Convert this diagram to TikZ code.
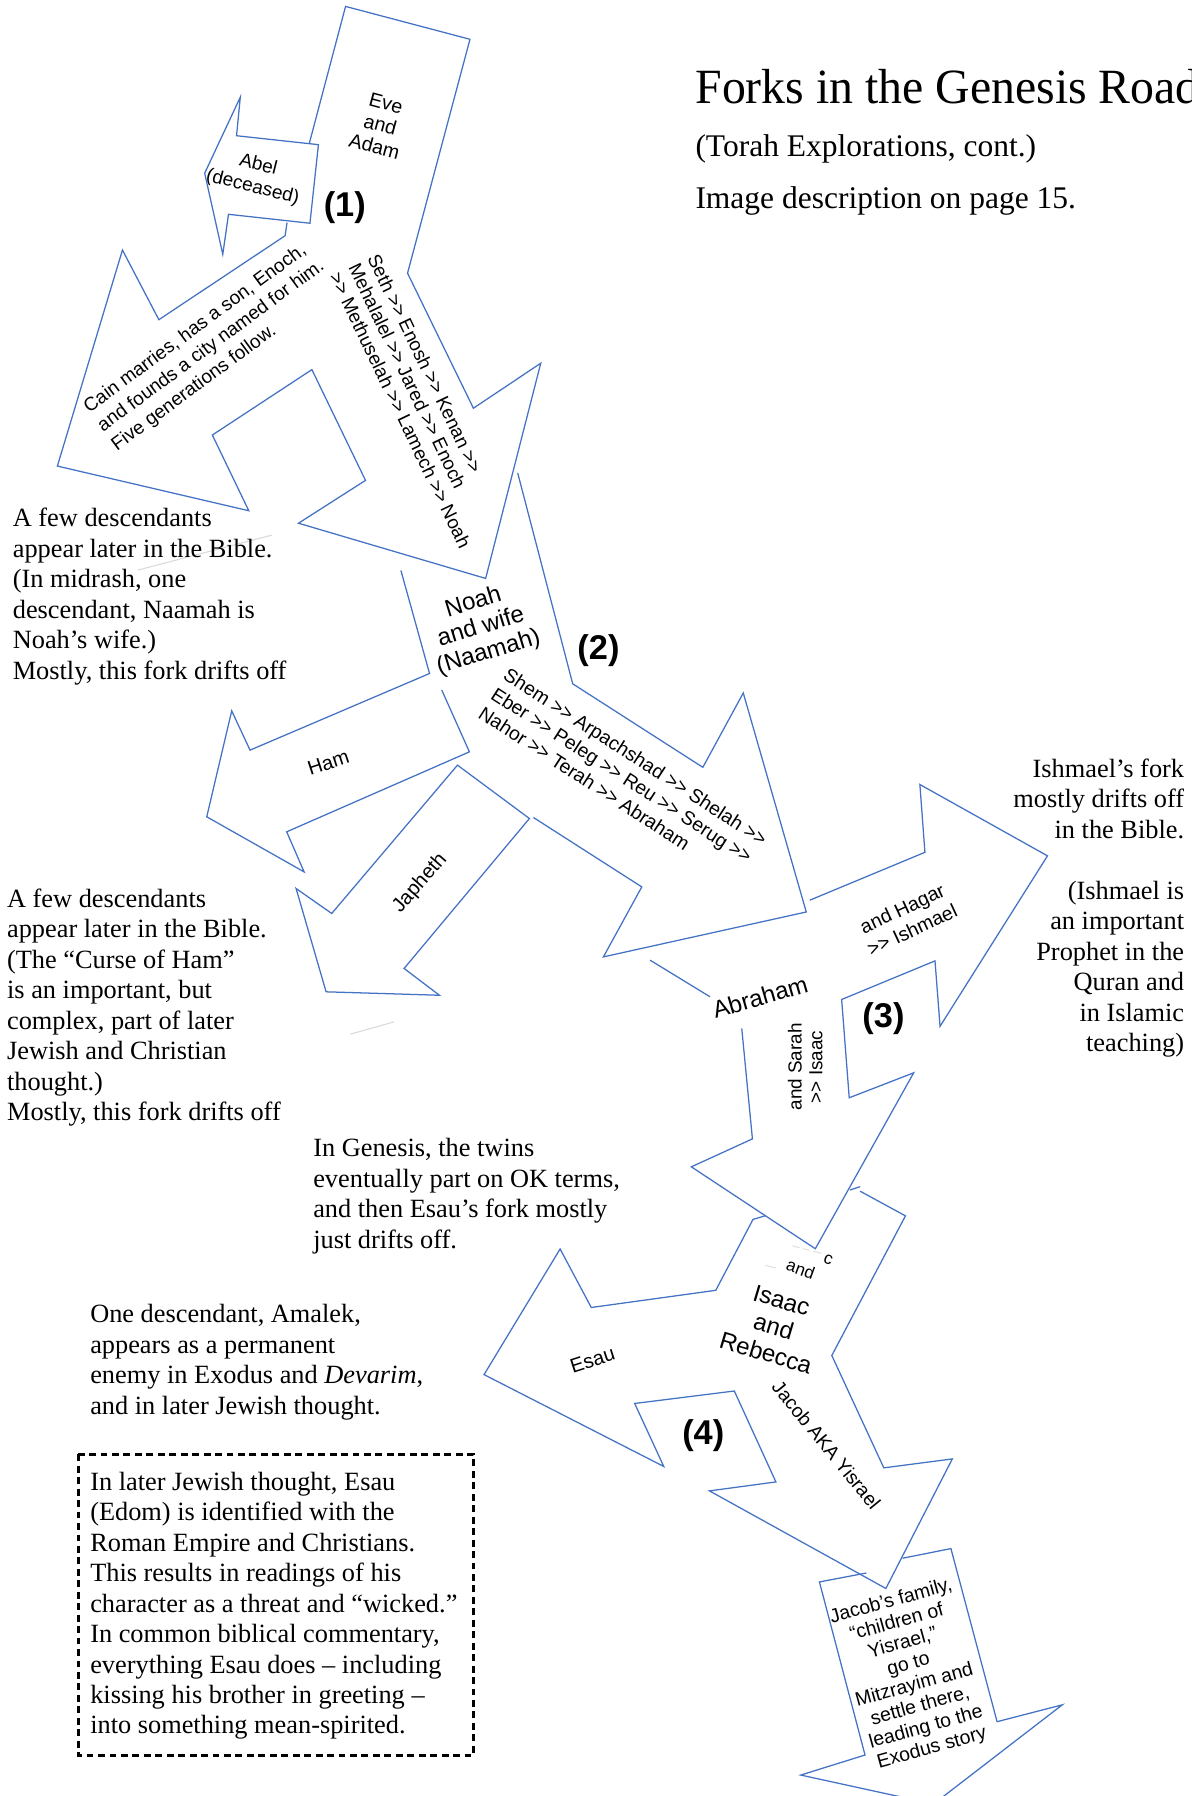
\documentclass[tikz,border=0pt]{standalone}
\usepackage{fontspec}
\setmainfont{Liberation Serif}
\setsansfont{Liberation Sans}
\usepackage{graphicx}
\definecolor{ablue}{RGB}{68,114,196}
\tikzset{
  shapeline/.style={draw=ablue, line width=1.1pt, line join=miter, miter limit=12},
  lab/.style={font=\sffamily\fontsize{16.8}{19}\selectfont, inner sep=0pt, align=center},
  biglab/.style={font=\sffamily\fontsize{21}{23}\selectfont, inner sep=0pt, align=center},
  num/.style={font=\sffamily\bfseries\fontsize{30}{36}\selectfont, inner sep=0pt},
  note/.style={font=\fontsize{23}{26.6}\selectfont, inner sep=0pt, anchor=base west},
  faint/.style={draw=gray!30, line width=0.9pt}
}
\newcommand{\lefttab}[1]{\begin{tabular}[t]{@{}l@{}}#1\end{tabular}}
\newcommand{\righttab}[1]{\begin{tabular}[t]{@{}r@{}}#1\end{tabular}}
\newcommand{\dgt}{>\kern0pt>}
\begin{document}
\begin{tikzpicture}[x=1pt,y=-1pt]
\useasboundingbox (0,0) rectangle (1040,1568);
\fill[white] (0,0) rectangle (1040,1568);
\clip (0,0) rectangle (1040,1568);

% ---- arrow outlines ----
% Eve/Adam stem, Cain branch
\draw[shapeline] (270,125.3) -- (301.7,5.6) -- (410.3,34.3) -- (355.8,238.5) -- (413.3,356.4) -- (472.1,317.1) -- (424,505) -- (260.6,456.8) -- (319.1,419.4) -- (272.3,322.7) -- (185.4,379.8) -- (217.2,445.9) -- (50.1,406.9) -- (106.9,218.3) -- (138.7,279.1) -- (248.9,205.8) -- (250.6,194.4);
% Abel
\draw[shapeline] (278,126.3) -- (206.5,118.5) -- (209.8,84.8) -- (178.7,151.2) -- (194.5,222) -- (199.5,187.1) -- (270.6,194.9) -- cycle;
% Noah left edge + Ham
\draw[shapeline] (350,498) -- (375,588) -- (218.3,654.9) -- (202.3,620.6) -- (180.5,713.1) -- (265.5,761.2) -- (250.3,726.2) -- (409.8,656.4) -- (385.7,602.5);
% Noah right edge + arrowhead
\draw[shapeline] (452,413) -- (500,597) -- (613.6,669.9) -- (648.9,605) -- (703.9,796.2) -- (526.8,835.4) -- (560.3,774.3) -- (465.7,713.7);
% Japheth
\draw[shapeline] (399.4,668) -- (462.2,714.6) -- (352.8,845.5) -- (383.6,868.9) -- (284.7,865.9) -- (258.5,775.7) -- (289.6,797.5) -- cycle;
% Abraham
\draw[shapeline] (567.6,838.3) -- (620,870.3);
\draw[shapeline] (647.6,897.9) -- (656.9,994.3) -- (603.6,1018.7) -- (711.8,1090.2) -- (797.7,936.6) -- (741.4,958.4) -- (734.8,872.6) -- (816.3,838.9) -- (820.7,896) -- (914.5,747.2) -- (803.1,684.9) -- (807.5,744.1) -- (707,785.9);
% Isaac / Esau
\draw[shapeline] (742,1039) -- (751,1036);
\draw[shapeline] (751,1040) -- (790.5,1061.5) -- (726.2,1183.4) -- (771.6,1281.5) -- (831.4,1273.7) -- (773.4,1386.8) -- (619.4,1301.6) -- (677.4,1293.8) -- (641.1,1214.4) -- (554.1,1225.3) -- (579.5,1280.3) -- (422.6,1200.1) -- (489,1090.4) -- (516.2,1141.5) -- (624.9,1126.5) -- (657.4,1064.6) -- (668.4,1061.3);
% Jacob's family
\draw[shapeline] (756.4,1373.3) -- (715.4,1381.1) -- (755.2,1532.2) -- (699.1,1549.7) -- (815,1575) -- (927.4,1488.4) -- (870.5,1503.1) -- (830.2,1352) -- (787.9,1360.4);

% faint stray strokes
\draw[faint] (120.3,497.7) -- (237.3,467.2);
\draw[faint] (305.8,902.9) -- (344.2,892.1);
\draw[faint, line width=0.7pt] (691.8,1087.7) -- (698,1089.3) (701,1090.1) -- (707,1091.6) (710,1092.4) -- (717.3,1094.2);
\draw[faint, line width=0.7pt] (668.4,1104.7) -- (677.4,1107.1);

% ---- labels inside arrows ----
\node[lab, font=\sffamily\fontsize{17.2}{19.6}\selectfont, rotate=-15] (eve) at (332,109) {Eve\\and\\Adam};
\node[lab, font=\sffamily\fontsize{16.6}{20}\selectfont, rotate=-14] (abel) at (223,154) {Abel\\(deceased)};
\node[num] (n1) at (301,181) {(1)};
\node[lab, align=left, font=\sffamily\fontsize{16.6}{20.5}\selectfont, rotate=36.4] (cain) at (184.5,302.4) {Cain marries, has a son, Enoch,\\and founds a city named for him.\\Five generations follow.};
\node[lab, align=left, font=\sffamily\fontsize{16.5}{18.5}\selectfont, rotate=-64.4] (seth) at (366.3,350.2) {Seth \dgt{} Enosh \dgt{} Kenan \dgt\\Mehalalel \dgt{} Jared \dgt{} Enoch\\\dgt{} Methuselah \dgt{} Lamech \dgt{} Noah};
\node[biglab, rotate=17, font=\sffamily\fontsize{21}{22.8}\selectfont] (noah) at (420,548) {Noah\\and wife\\(Naamah)};
\node[num] (n2) at (522.5,567.6) {(2)};
\node[lab, align=left, font=\sffamily\fontsize{16.9}{20}\selectfont, rotate=-32.9] (shem) at (544,677.6) {Shem \dgt{} Arpachshad \dgt{} Shelah \dgt\\Eber \dgt{} Peleg \dgt{} Reu \dgt{} Serug \dgt\\Nahor \dgt{} Terah \dgt{} Abraham};
\node[lab, rotate=18, font=\sffamily\fontsize{17.5}{20}\selectfont] (ham) at (286.7,666) {Ham};
\node[lab, rotate=49, font=\sffamily\fontsize{17.5}{20}\selectfont] (japheth) at (366.7,771.3) {Japheth};
\node[biglab, rotate=16] (abraham) at (663.6,870.3) {Abraham};
\node[lab, rotate=90, font=\sffamily\fontsize{16.5}{18}\selectfont] (sarah) at (703,931.4) {and Sarah\\\dgt{} Isaac};
\node[lab, rotate=25, font=\sffamily\fontsize{17}{20.5}\selectfont] (hagar) at (792,802.5) {and Hagar\\\dgt{} Ishmael};
\node[num] (n3) at (771.3,889.2) {(3)};
\node[lab, rotate=-20, font=\sffamily\fontsize{15}{18}\selectfont] (frag1) at (699.1,1107.8) {and};
\node[lab, rotate=-20, font=\sffamily\fontsize{15}{18}\selectfont] (frag2) at (723,1100) {c};
\node[biglab, rotate=-16.6, font=\sffamily\fontsize{21}{24}\selectfont] (isaac) at (675.5,1158.3) {Isaac\\and\\Rebecca};
\node[lab, rotate=18, font=\sffamily\fontsize{17.5}{20}\selectfont] (esau) at (517.2,1187.3) {Esau};
\node[lab, rotate=-50.8] (jacob) at (721.5,1261.5) {Jacob AKA Yisrael};
\node[num] (n4) at (614,1253.1) {(4)};
\node[lab, rotate=15.5, font=\sffamily\fontsize{17}{19}\selectfont] (family) at (795.8,1462.5) {Jacob’s family,\\“children of\\Yisrael,”\\go to\\Mitzrayim and\\settle there,\\leading to the\\Exodus story};

% ---- title ----
\node[anchor=base west, inner sep=0pt] (title) at (607,90.5) {\scalebox{0.97}[1]{\fontsize{43}{52}\selectfont Forks in the Genesis Road}};
\node[anchor=base west, inner sep=0pt, font=\fontsize{27.5}{33}\selectfont] (sub1) at (607,136.8) {(Torah Explorations, cont.)};
\node[anchor=base west, inner sep=0pt, font=\fontsize{27.5}{33}\selectfont] (sub2) at (607,181.9) {Image description on page 15.};

% ---- side notes ----
\node[note] (t1) at (11,459.9) {\lefttab{A few descendants\\appear later in the Bible.\\(In midrash, one\\descendant, Naamah is\\Noah’s wife.)\\Mostly, this fork drifts off}};
\node[note] (t2) at (6,792.3) {\lefttab{A few descendants\\appear later in the Bible.\\(The “Curse of Ham”\\is an important, but\\complex, part of later\\Jewish and Christian\\thought.)\\Mostly, this fork drifts off}};
\node[note] (t3) at (273.3,1010) {\lefttab{In Genesis, the twins\\eventually part on OK terms,\\and then Esau’s fork mostly\\just drifts off.}};
\node[note] (t4) at (78.6,1155) {\lefttab{One descendant, Amalek,\\appears as a permanent\\enemy in Exodus and \textit{Devarim},\\and in later Jewish thought.}};
\node[note] (t5) at (78.6,1301) {\lefttab{In later Jewish thought, Esau\\(Edom) is identified with the\\Roman Empire and Christians.\\This results in readings of his\\character as a threat and “wicked.”\\In common biblical commentary,\\everything Esau does – including\\kissing his brother in greeting –\\into something mean-spirited.}};
\draw[black, line width=2.6pt, dash pattern=on 6pt off 4pt] (68.4,1269.7) rectangle (413.3,1532.5);
\node[note, anchor=base east] (t6) at (1034,678.6) {\righttab{Ishmael’s fork\\mostly drifts off\\in the Bible.\\ \\(Ishmael is\\an important\\Prophet in the\\Quran and\\in Islamic\\teaching)}};
\end{tikzpicture}
\end{document}
